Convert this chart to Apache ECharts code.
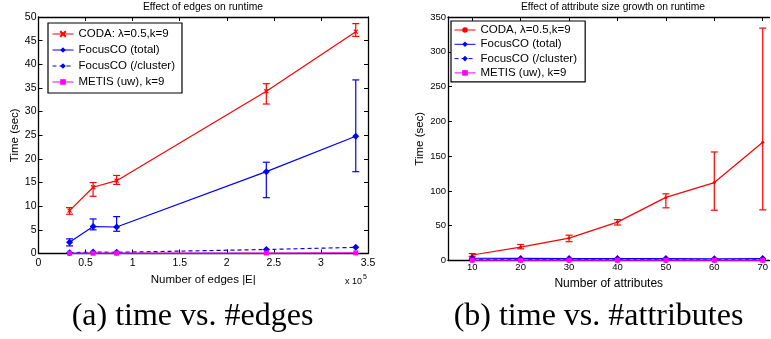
<!DOCTYPE html>
<html>
<head>
<meta charset="utf-8">
<script src="https://cdn.jsdelivr.net/npm/echarts@6/dist/echarts.min.js"></script>
<style>
html,body{margin:0;padding:0;background:#fff;}
#c{width:771px;height:339px;}
</style>
</head>
<body>
<div id="c"></div>
<script>
// ---- Data: (a) time vs. #edges ----
const edgesX = [33000, 58000, 83000, 242000, 337000];
const codaEdges = [9.05, 14.0, 15.4, 34.3, 46.9];
const codaEdgesLow = [8.3, 12.1, 14.6, 31.6, 45.9];
const codaEdgesHigh = [9.7, 15.0, 16.5, 35.9, 48.6];
const focusTotalEdges = [2.4, 5.7, 5.6, 17.3, 24.8];
const focusTotalEdgesLow = [1.6, 5.0, 4.7, 11.8, 17.3];
const focusTotalEdgesHigh = [3.1, 7.3, 7.8, 19.3, 36.7];
const focusClusterEdges = [0.15, 0.3, 0.25, 0.85, 1.3];
const metisEdges = [0.05, 0.06, 0.07, 0.1, 0.12];

// ---- Data: (b) time vs. #attributes ----
const attrX = [10, 20, 30, 40, 50, 60, 70];
const codaAttr = [7.9, 19.3, 32.2, 55.2, 90.7, 112, 170];
const codaAttrLow = [6, 16.8, 27, 51, 75.7, 72.3, 72.8];
const codaAttrHigh = [10, 23, 36.4, 58.8, 95.8, 156, 334];
const focusTotalAttr = [3.2, 3.0, 2.8, 2.9, 2.7, 2.5, 2.9];
const focusClusterAttr = [1.5, 1.4, 1.3, 1.3, 1.2, 1.1, 1.3];
const metisAttr = [0.4, 0.4, 0.4, 0.4, 0.4, 0.4, 0.4];

// ---- Tick labels / texts ----
const attrTicks = [10, 20, 30, 40, 50, 60, 70];
const legendA = ['CODA: λ=0.5,k=9', 'FocusCO (total)', 'FocusCO (/cluster)', 'METIS (uw), k=9'];
const legendB = ['CODA, λ=0.5,k=9', 'FocusCO (total) ', 'FocusCO (/cluster) ', 'METIS (uw), k=9 '];

const SANS = "'Liberation Sans', Arial, Helvetica, sans-serif";
const SERIF = "'Liberation Serif', 'Times New Roman', serif";
const RED = '#ff0000', BLUE = '#0000ff', MAG = '#ff00ff';
const CROSS = 'path://M0,0L10,10M10,0L0,10';

const chart = echarts.init(document.getElementById('c'), null, {renderer: 'canvas'});

function zip(xs, ys) { return xs.map((x, i) => [x, ys[i]]); }

function lineSeries(name, xs, ys, color, symbol, size, dashed, xi, yi, z) {
  return {
    type: 'line', name: name, xAxisIndex: xi, yAxisIndex: yi,
    data: zip(xs, ys), symbol: symbol, symbolSize: size, showSymbol: true,
    lineStyle: {color: color, width: 1.2, type: dashed ? [4, 3] : 'solid'},
    itemStyle: {color: color, borderColor: color, borderWidth: symbol === CROSS ? 1.2 : 0},
    emphasis: {disabled: true}, animation: false, z: z
  };
}

function errSeries(xs, lo, hi, color, xi, yi, z) {
  return {
    type: 'custom', xAxisIndex: xi, yAxisIndex: yi, silent: true, animation: false, z: z,
    data: xs.map((x, i) => [x, lo[i], hi[i]]),
    encode: {x: 0, y: [1, 2]},
    renderItem: function (params, api) {
      const x = api.value(0);
      const a = api.coord([x, api.value(1)]);
      const b = api.coord([x, api.value(2)]);
      const w = 3.5;
      const st = {stroke: color, lineWidth: 1.2};
      return {type: 'group', children: [
        {type: 'line', shape: {x1: a[0], y1: a[1], x2: b[0], y2: b[1]}, style: st},
        {type: 'line', shape: {x1: a[0] - w, y1: a[1], x2: a[0] + w, y2: a[1]}, style: st},
        {type: 'line', shape: {x1: b[0] - w, y1: b[1], x2: b[0] + w, y2: b[1]}, style: st}
      ]};
    }
  };
}

const axLine = {show: true, onZero: false, lineStyle: {color: '#000', width: 1.3}};
const tick = {show: true, inside: true, length: 4, lineStyle: {color: '#000', width: 1}};
const legendCommon = {
  orient: 'vertical', selectedMode: false,
  backgroundColor: '#fff', borderColor: '#000', borderWidth: 1.2,
  itemWidth: 21, itemHeight: 7,
  lineStyle: {width: 1},
  textStyle: {color: '#000', fontSize: 11.5, fontFamily: SANS, lineHeight: 12}
};

const option = {
  backgroundColor: '#fff',
  animation: false,
  grid: [
    {left: 38.5, right: 403, top: 17, bottom: 85.5, show: false},
    {left: 448, right: 0, top: 17, bottom: 78.5, show: false}
  ],
  xAxis: [
    {gridIndex: 0, type: 'value', position: 'bottom', min: 0, max: 350000, interval: 50000,
     axisLine: axLine, axisTick: tick, splitLine: {show: false},
     axisLabel: {color: '#000', fontSize: 10.5, fontFamily: SANS, margin: 4,
       formatter: v => String(Math.round(v / 1e4) / 10)},
     name: 'Number of edges |E|', nameLocation: 'middle', nameGap: 14,
     nameTextStyle: {color: '#000', fontSize: 11.5, fontFamily: SANS}},
    {gridIndex: 0, type: 'value', position: 'top', min: 0, max: 350000, interval: 50000,
     axisLine: axLine, axisTick: tick, splitLine: {show: false}, axisLabel: {show: false}},
    {gridIndex: 1, type: 'value', position: 'bottom', min: 5, max: 71.4,
     axisLine: axLine,
     axisTick: Object.assign({customValues: attrTicks}, tick),
     splitLine: {show: false},
     axisLabel: {customValues: attrTicks, color: '#000', fontSize: 9.5, fontFamily: SANS, margin: 2},
     name: 'Number of attributes', nameLocation: 'middle', nameGap: 12,
     nameTextStyle: {color: '#000', fontSize: 12, fontFamily: SANS}},
    {gridIndex: 1, type: 'value', position: 'top', min: 5, max: 71.4,
     axisLine: axLine, axisTick: Object.assign({customValues: attrTicks}, tick),
     splitLine: {show: false}, axisLabel: {show: false}}
  ],
  yAxis: [
    {gridIndex: 0, type: 'value', position: 'left', min: 0, max: 50, interval: 5,
     axisLine: axLine, axisTick: tick, splitLine: {show: false},
     axisLabel: {color: '#000', fontSize: 10.5, fontFamily: SANS, margin: 2},
     name: 'Time (sec)', nameLocation: 'middle', nameGap: 16,
     nameTextStyle: {color: '#000', fontSize: 11.5, fontFamily: SANS}},
    {gridIndex: 0, type: 'value', position: 'right', min: 0, max: 50, interval: 5,
     axisLine: axLine, axisTick: tick, splitLine: {show: false}, axisLabel: {show: false}},
    {gridIndex: 1, type: 'value', position: 'left', min: 0, max: 350, interval: 50,
     axisLine: axLine, axisTick: tick, splitLine: {show: false},
     axisLabel: {color: '#000', fontSize: 9.5, fontFamily: SANS, margin: 2},
     name: 'Time (sec)', nameLocation: 'middle', nameGap: 22,
     nameTextStyle: {color: '#000', fontSize: 11.5, fontFamily: SANS}}
  ],
  legend: [
    Object.assign({data: legendA, left: 48, top: 23, padding: [5, 7, 5, 4], itemGap: 4}, legendCommon),
    Object.assign({data: legendB, left: 451, top: 21, padding: [3, 5, 3, 3], itemGap: 2.3}, legendCommon)
  ],
  series: [
    errSeries(edgesX, codaEdgesLow, codaEdgesHigh, RED, 0, 0, 2),
    lineSeries(legendA[0], edgesX, codaEdges, RED, CROSS, 4, false, 0, 0, 2),
    errSeries(edgesX, focusTotalEdgesLow, focusTotalEdgesHigh, BLUE, 0, 0, 3),
    lineSeries(legendA[1], edgesX, focusTotalEdges, BLUE, 'diamond', 7, false, 0, 0, 3),
    lineSeries(legendA[2], edgesX, focusClusterEdges, BLUE, 'diamond', 7, true, 0, 0, 4),
    lineSeries(legendA[3], edgesX, metisEdges, MAG, 'rect', 5, false, 0, 0, 5),

    errSeries(attrX, codaAttrLow, codaAttrHigh, RED, 2, 2, 2),
    lineSeries(legendB[0], attrX, codaAttr, RED, 'circle', 3, false, 2, 2, 2),
    lineSeries(legendB[1], attrX, focusTotalAttr, BLUE, 'diamond', 7, false, 2, 2, 3),
    lineSeries(legendB[2], attrX, focusClusterAttr, BLUE, 'diamond', 7, true, 2, 2, 4),
    lineSeries(legendB[3], attrX, metisAttr, MAG, 'rect', 5, false, 2, 2, 5)
  ],
  graphic: [
    {type: 'text', style: {text: 'Effect of edges on runtime', x: 203, y: 7,
      align: 'center', verticalAlign: 'middle', fill: '#000', fontSize: 10.3, fontFamily: SANS}},
    {type: 'text', style: {text: 'Effect of attribute size growth on runtime', x: 613, y: 7,
      align: 'center', verticalAlign: 'middle', fill: '#000', fontSize: 10.3, fontFamily: SANS}},
    {type: 'text', style: {text: '{a|x 10}{b|5}', x: 345, y: 280, verticalAlign: 'middle',
      rich: {a: {fontSize: 9, fontFamily: SANS, fill: '#000', verticalAlign: 'bottom'},
             b: {fontSize: 7, fontFamily: SANS, fill: '#000', verticalAlign: 'top', padding: [0, 0, 6, 1]}}}},
    {type: 'text', style: {text: '(a) time vs. #edges', x: 192.5, y: 317, align: 'center', verticalAlign: 'middle',
      fill: '#000', fontSize: 32, fontFamily: SERIF}},
    {type: 'text', style: {text: '(b) time vs. #attributes', x: 598.5, y: 317, align: 'center', verticalAlign: 'middle',
      fill: '#000', fontSize: 32, fontFamily: SERIF}}
  ]
};
chart.setOption(option);
</script>
</body>
</html>
